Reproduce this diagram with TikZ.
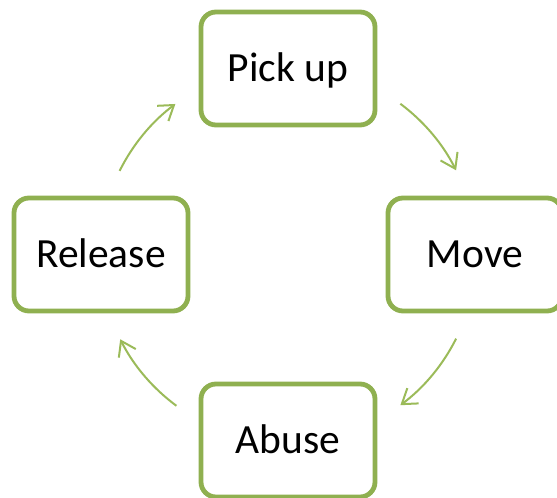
\documentclass[tikz,border=0pt]{standalone}
\usepackage{fontspec}
\setmainfont{Carlito}
\usetikzlibrary{arrows.meta}
\definecolor{boxgreen}{RGB}{143,176,80}
\definecolor{arrowgreen}{RGB}{155,187,89}
\tikzset{
  stage/.style={draw=boxgreen, line width=4.8pt, rounded corners=15pt, fill=white,
    minimum width=174pt, minimum height=113pt, inner sep=0pt,
    text height=27pt, text depth=0pt,
    font=\fontsize{41.5}{50}\selectfont},
  flow/.style={draw=arrowgreen, line width=2pt,
    -{Straight Barb[length=14pt,width=19pt,line width=2pt]}}
}
\begin{document}
\begin{tikzpicture}[x=1pt,y=1pt]
  \useasboundingbox (0,0) rectangle (557,498);
  \clip (0,0) rectangle (557,498);
  \coordinate (hub) at (288,243.5);
  \node[stage] (pick)    at (288,429.5) {Pick up};
  \node[stage] (move)    at (475,243.5) {Move};
  \node[stage] (abuse)   at (288,57.5)  {Abuse};
  \node[stage] (release) at (101,243.5) {Release};
  % curved connectors running clockwise around the hub
  \draw[flow] ([shift={(53.3:188pt)}]hub)  arc[start angle=53.3,  end angle=26.6,  radius=188pt];
  \draw[flow] ([shift={(-26.6:188pt)}]hub) arc[start angle=-26.6, end angle=-53.3, radius=188pt];
  \draw[flow] ([shift={(233.6:188pt)}]hub) arc[start angle=233.6, end angle=206.8, radius=188pt];
  \draw[flow] ([shift={(153.6:188pt)}]hub) arc[start angle=153.6, end angle=126.8, radius=188pt];
\end{tikzpicture}
\end{document}
